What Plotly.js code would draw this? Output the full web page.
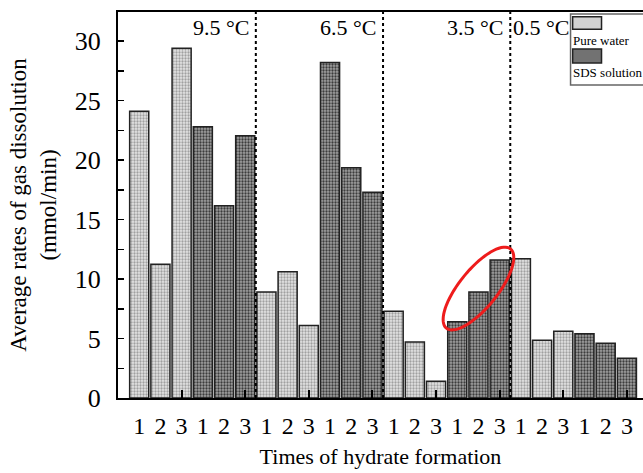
<!DOCTYPE html>
<html>
<head>
<meta charset="utf-8">
<script src="https://cdn.plot.ly/plotly-3.0.1.min.js"></script>
<style>html,body{margin:0;padding:0;background:#fff;}#chart{width:643px;height:473px;}</style>
</head>
<body>
<div id="chart"></div>
<script>
// ---- data ----
const temperatures = ['9.5 °C', '6.5 °C', '3.5 °C', '0.5 °C'];
const runLabels = ['1', '2', '3'];
const seriesNames = ['Pure water', 'SDS solution'];
// three runs per temperature, in temperature order
const pureWater = [24.1, 11.25, 29.4, 8.9, 10.6, 6.1, 7.3, 4.7, 1.4, 11.7, 4.85, 5.6];
const sdsSolution = [22.8, 16.15, 22.05, 28.2, 19.35, 17.3, 6.4, 8.9, 11.6, 5.4, 4.6, 3.35];

const nRuns = runLabels.length;
const groupSize = nRuns * 2;
const nGroups = temperatures.length;

const xPure = [], xSds = [];
pureWater.forEach((v, i) => {
  const g = Math.floor(i / nRuns), r = i % nRuns;
  xPure.push(g * groupSize + r + 1);
});
sdsSolution.forEach((v, i) => {
  const g = Math.floor(i / nRuns), r = i % nRuns;
  xSds.push(g * groupSize + nRuns + r + 1);
});

const tickVals = [], tickText = [];
for (let g = 0; g < nGroups; g++) {
  for (let k = 0; k < groupSize; k++) {
    tickVals.push(g * groupSize + k + 1);
    tickText.push(runLabels[k % nRuns]);
  }
}
const minorTickVals = tickVals.filter(v => v % nRuns === 0);

const FONT = 'Liberation Serif, Times New Roman, serif';

const traces = [
  {
    type: 'bar', x: xPure, y: pureWater, name: seriesNames[0], showlegend: false,
    marker: {
      color: '#dcdcdc',
      line: {color: '#222', width: 1.5},
      pattern: {shape: '.', bgcolor: '#e4e4e4', fgcolor: '#a0a0a0', size: 3, solidity: 0.45}
    }
  },
  {
    type: 'bar', x: xSds, y: sdsSolution, name: seriesNames[1], showlegend: false,
    marker: {
      color: '#7a7a7a',
      line: {color: '#222', width: 1.5},
      pattern: {shape: '.', bgcolor: '#a0a0a0', fgcolor: '#3c3c3c', size: 3, solidity: 0.45}
    }
  },
  {type: 'scatter', x: [], y: [], xaxis: 'x2', yaxis: 'y', showlegend: false, hoverinfo: 'skip'}
];

// group separators and temperature labels
const shapes = [];
const annotations = [];
for (let g = 1; g < nGroups; g++) {
  shapes.push({
    type: 'line', xref: 'x', yref: 'paper', x0: g * groupSize + 0.5, x1: g * groupSize + 0.5, y0: 0, y1: 1,
    line: {color: '#000', width: 2, dash: 'dot'}, layer: 'above'
  });
}
temperatures.forEach((t, g) => {
  const last = g === nGroups - 1;
  annotations.push({
    text: t, xref: 'x', yref: 'paper',
    x: last ? g * groupSize + 0.5 : (g + 1) * groupSize + 0.5,
    xanchor: last ? 'left' : 'right', xshift: last ? 1 : -5,
    y: 1, yanchor: 'top', yshift: -1, showarrow: false,
    font: {family: FONT, size: 22, color: '#000'}
  });
});

// red ellipse highlighting the SDS bars at 3.5 °C (pixel-sized, anchored in data space)
(function () {
  const a = 51, b = 19, th = 51 * Math.PI / 180, n = 72;
  let p = '';
  for (let i = 0; i <= n; i++) {
    const t = 2 * Math.PI * i / n;
    const ex = a * Math.cos(t) * Math.cos(th) - b * Math.sin(t) * Math.sin(th);
    const ey = a * Math.cos(t) * Math.sin(th) + b * Math.sin(t) * Math.cos(th);
    p += (i === 0 ? 'M' : 'L') + ex.toFixed(2) + ',' + ey.toFixed(2);
  }
  p += 'Z';
  shapes.push({
    type: 'path', xref: 'x', yref: 'y', xsizemode: 'pixel', ysizemode: 'pixel',
    xanchor: 2 * groupSize + nRuns + 2, yanchor: 9.2, path: p,
    line: {color: '#ee1c1c', width: 3}, layer: 'above'
  });
})();

// legend (swatch above label, as in the reference)
shapes.push({type: 'rect', xref: 'paper', yref: 'paper', x0: 0.862, x1: 1.05, y0: 0.811, y1: 0.995,
  line: {color: '#666', width: 1.5}, fillcolor: '#fff', layer: 'above'});
shapes.push({type: 'rect', xref: 'paper', yref: 'paper', x0: 0.866, x1: 0.921, y0: 0.955, y1: 0.988,
  line: {color: '#222', width: 1.5}, fillcolor: '#d2d2d2', layer: 'above'});
shapes.push({type: 'rect', xref: 'paper', yref: 'paper', x0: 0.866, x1: 0.921, y0: 0.868, y1: 0.904,
  line: {color: '#222', width: 1.5}, fillcolor: '#727272', layer: 'above'});
annotations.push({text: seriesNames[0], xref: 'paper', yref: 'paper', x: 0.863, y: 0.925, xanchor: 'left', yanchor: 'middle',
  showarrow: false, font: {family: FONT, size: 13, color: '#000'}});
annotations.push({text: seriesNames[1], xref: 'paper', yref: 'paper', x: 0.863, y: 0.842, xanchor: 'left', yanchor: 'middle',
  showarrow: false, font: {family: FONT, size: 13, color: '#000'}});

const layout = {
  width: 643, height: 473,
  margin: {l: 118, r: 0, t: 12, b: 75, pad: 0},
  paper_bgcolor: '#fff', plot_bgcolor: '#fff',
  font: {family: FONT, color: '#000'},
  barmode: 'overlay', bargap: 0.1,
  showlegend: false,
  xaxis: {
    range: [0, 24.76], tickmode: 'array', tickvals: tickVals, ticktext: tickText,
    ticks: '', showgrid: false, zeroline: false,
    showline: true, linecolor: '#000', linewidth: 2, mirror: true,
    tickfont: {family: FONT, size: 24, color: '#000'}, ticklabelstandoff: 5,
    title: {text: 'Times of hydrate formation', font: {family: FONT, size: 22, color: '#000'}, standoff: 11},
    automargin: false
  },
  xaxis2: {
    overlaying: 'x', matches: 'x', anchor: 'y', side: 'bottom',
    tickmode: 'array', tickvals: minorTickVals, ticks: 'inside', ticklen: 8, tickwidth: 2, tickcolor: '#000',
    showticklabels: false, showline: false, showgrid: false, zeroline: false
  },
  yaxis: {
    range: [0, 32.44], tick0: 0, dtick: 5, ticks: 'inside', ticklen: 6, tickwidth: 1.5, tickcolor: '#000',
    minor: {dtick: 2.5, ticks: 'inside', ticklen: 6, tickwidth: 1.5, tickcolor: '#000', showgrid: false},
    showgrid: false, zeroline: false, showline: true, linecolor: '#000', linewidth: 2,
    tickfont: {family: FONT, size: 26, color: '#000'}, ticklabelstandoff: 10,
    title: {text: 'Average rates of gas dissolution<br>(mmol/min)', font: {family: FONT, size: 23, color: '#000'}, standoff: 12},
    automargin: false
  },
  shapes: shapes,
  annotations: annotations
};

Plotly.newPlot('chart', traces, layout, {staticPlot: true, displayModeBar: false});
</script>
</body>
</html>
